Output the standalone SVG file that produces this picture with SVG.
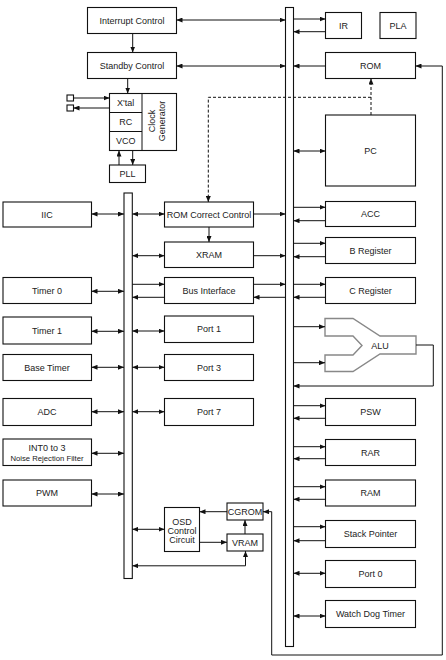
<svg xmlns="http://www.w3.org/2000/svg" width="446" height="660" viewBox="0 0 446 660">
<style>
.b{fill:#fff;stroke:#111;stroke-width:1.1}
.bar{fill:#fff;stroke:#111;stroke-width:1.1}
.t{font-family:"Liberation Sans",Arial,sans-serif;font-size:9px;fill:#222;text-anchor:middle}
.s{font-size:7.7px}
.l{fill:none;stroke:#111;stroke-width:1}
.a{marker-end:url(#ah)}
.d{marker-start:url(#ah);marker-end:url(#ah)}
.dash{stroke-dasharray:3,2}
.alu{fill:#fff;stroke:#888;stroke-width:1.4}
</style>
<defs>
<marker id="ah" viewBox="0 0 6 5" refX="6" refY="2.5" markerWidth="6" markerHeight="5" markerUnits="userSpaceOnUse" orient="auto-start-reverse">
<path d="M0,0 L6,2.5 L0,5 z" fill="#111"/>
</marker>
</defs>

<!-- buses -->
<g id="main-bus"><rect class="bar" x="285.5" y="7.5" width="8" height="639"/></g>
<g id="left-bus"><rect class="bar" x="124" y="193" width="8.3" height="385.5"/></g>

<!-- nodes -->
<g id="interrupt-control"><rect class="b" x="87.5" y="7.5" width="89" height="26"/><text class="t" x="132" y="23.5">Interrupt Control</text></g>
<g id="standby-control"><rect class="b" x="87.5" y="52.5" width="89" height="26"/><text class="t" x="132" y="68.5">Standby Control</text></g>
<g id="clock-generator">
<rect class="b" x="109.5" y="93.5" width="67" height="57"/>
<line class="l" x1="142" y1="93.5" x2="142" y2="150.5"/>
<line class="l" x1="109.5" y1="112.5" x2="142" y2="112.5"/>
<line class="l" x1="109.5" y1="131.5" x2="142" y2="131.5"/>
<text class="t" x="125.7" y="106">X'tal</text>
<text class="t" x="125.7" y="125">RC</text>
<text class="t" x="125.7" y="144">VCO</text>
<text class="t" transform="translate(154.5,121) rotate(-90)">Clock</text>
<text class="t" transform="translate(164.5,121) rotate(-90)">Generator</text>
</g>
<g id="pin1"><rect class="b" x="67" y="95" width="6.5" height="6"/></g>
<g id="pin2"><rect class="b" x="67" y="105" width="6.5" height="6"/></g>
<g id="pll"><rect class="b" x="109.5" y="165" width="36" height="17.5"/><text class="t" x="127.5" y="177">PLL</text></g>

<g id="ir"><rect class="b" x="325.5" y="12.5" width="36" height="26"/><text class="t" x="343.5" y="28.5">IR</text></g>
<g id="pla"><rect class="b" x="380" y="12.5" width="36" height="26"/><text class="t" x="398" y="28.5">PLA</text></g>
<g id="rom"><rect class="b" x="325.5" y="52.5" width="90" height="26"/><text class="t" x="370.5" y="68.5">ROM</text></g>
<g id="pc"><rect class="b" x="325.5" y="115" width="90" height="71"/><text class="t" x="370.5" y="154">PC</text></g>
<g id="acc"><rect class="b" x="325.5" y="201.5" width="90" height="25"/><text class="t" x="370.5" y="217">ACC</text></g>
<g id="b-register"><rect class="b" x="325.5" y="237.5" width="90" height="26"/><text class="t" x="370.5" y="253.5">B Register</text></g>
<g id="c-register"><rect class="b" x="325.5" y="277.5" width="90" height="26"/><text class="t" x="370.5" y="293.5">C Register</text></g>
<g id="alu"><path class="alu" d="M325,318.5 H353 L380,336 H416 V354 H380 L353,371.5 H325 V355 H353 L362,345.5 L353,336 H325 Z"/><text class="t" x="380" y="348.5">ALU</text></g>
<g id="psw"><rect class="b" x="325.5" y="398.5" width="90" height="27"/><text class="t" x="370.5" y="415">PSW</text></g>
<g id="rar"><rect class="b" x="325.5" y="439.5" width="90" height="26"/><text class="t" x="370.5" y="455.5">RAR</text></g>
<g id="ram"><rect class="b" x="325.5" y="480" width="90" height="26"/><text class="t" x="370.5" y="496">RAM</text></g>
<g id="stack-pointer"><rect class="b" x="325.5" y="520.5" width="90" height="27"/><text class="t" x="370.5" y="537">Stack Pointer</text></g>
<g id="port0"><rect class="b" x="325.5" y="560.5" width="90" height="27"/><text class="t" x="370.5" y="577">Port 0</text></g>
<g id="watch-dog-timer"><rect class="b" x="325.5" y="600.5" width="90" height="27"/><text class="t" x="370.5" y="617">Watch Dog Timer</text></g>

<g id="rom-correct-control"><rect class="b" x="164.5" y="202" width="89" height="25"/><text class="t" x="209" y="217.5">ROM Correct Control</text></g>
<g id="xram"><rect class="b" x="164.5" y="242" width="89" height="25.5"/><text class="t" x="209" y="258">XRAM</text></g>
<g id="bus-interface"><rect class="b" x="164.5" y="277.5" width="89" height="26"/><text class="t" x="209" y="293.5">Bus Interface</text></g>
<g id="port1"><rect class="b" x="164.5" y="316" width="89" height="26.5"/><text class="t" x="209" y="332">Port 1</text></g>
<g id="port3"><rect class="b" x="164.5" y="354.5" width="89" height="26"/><text class="t" x="209" y="370.5">Port 3</text></g>
<g id="port7"><rect class="b" x="164.5" y="398.5" width="89" height="27"/><text class="t" x="209" y="415">Port 7</text></g>
<g id="osd"><rect class="b" x="164.5" y="507.5" width="35" height="44"/><text class="t" x="182" y="524.5">OSD</text><text class="t" x="182" y="533.5">Control</text><text class="t" x="182" y="542.5">Circuit</text></g>
<g id="cgrom"><rect class="b" x="227" y="503" width="36" height="17"/><text class="t" x="245" y="514.8">CGROM</text></g>
<g id="vram"><rect class="b" x="227" y="534" width="36" height="17"/><text class="t" x="245" y="545.8">VRAM</text></g>

<g id="iic"><rect class="b" x="3" y="202" width="88.5" height="25"/><text class="t" x="47" y="217.5">IIC</text></g>
<g id="timer0"><rect class="b" x="3" y="277.5" width="88.5" height="26"/><text class="t" x="47" y="293.5">Timer 0</text></g>
<g id="timer1"><rect class="b" x="3" y="317" width="88.5" height="27"/><text class="t" x="47" y="333.5">Timer 1</text></g>
<g id="base-timer"><rect class="b" x="3" y="354.5" width="88.5" height="26"/><text class="t" x="47" y="370.5">Base Timer</text></g>
<g id="adc"><rect class="b" x="3" y="398.5" width="88.5" height="27"/><text class="t" x="47" y="415">ADC</text></g>
<g id="int0"><rect class="b" x="3" y="439" width="88.5" height="26.5"/><text class="t" x="47" y="451">INT0 to 3</text><text class="t s" x="47" y="460.5">Noise Rejection Filter</text></g>
<g id="pwm"><rect class="b" x="3" y="480" width="88.5" height="26"/><text class="t" x="47" y="496">PWM</text></g>

<!-- connectors -->
<g id="connectors">
<path class="l a" d="M132.7,33.5 V52.5"/>
<path class="l a" d="M127.7,78.5 V93.5"/>
<path class="l d" d="M176.5,20 H285.5"/>
<path class="l d" d="M176.5,66 H285.5"/>
<path class="l a" d="M73.5,98 H109.5"/>
<path class="l a" d="M109.5,108 H73.5"/>
<path class="l a" d="M119,165 V150.5"/>
<path class="l a" d="M132.7,150.5 V165"/>

<path class="l a" d="M293.5,19 H325.5"/>
<path class="l a" d="M325.5,31.7 H293.5"/>
<path class="l a" d="M325.5,66 H293.5"/>
<path class="l d" d="M293.5,151 H325.5"/>
<path class="l dash a" d="M371,115 V78.5"/>
<path class="l dash a" d="M371,97.3 H208.3 V202"/>
<path class="l a" d="M442.3,655 V66 H415.5"/>
<path class="l a" d="M442.3,655 H271.7 V511.7 H263"/>

<path class="l a" d="M293.5,207.3 H325.5"/>
<path class="l a" d="M325.5,220.7 H293.5"/>
<path class="l a" d="M293.5,243.3 H325.5"/>
<path class="l a" d="M325.5,256.7 H293.5"/>
<path class="l a" d="M293.5,284.3 H325.5"/>
<path class="l a" d="M325.5,297.3 H293.5"/>
<path class="l a" d="M293.5,326.7 H325"/>
<path class="l a" d="M293.5,362.7 H325"/>
<path class="l a" d="M416,345 H433.3 V386 H293.5"/>
<path class="l a" d="M293.5,405.7 H325.5"/>
<path class="l a" d="M325.5,418.3 H293.5"/>
<path class="l a" d="M293.5,446.7 H325.5"/>
<path class="l a" d="M325.5,458.7 H293.5"/>
<path class="l a" d="M293.5,486.7 H325.5"/>
<path class="l a" d="M325.5,499.3 H293.5"/>
<path class="l a" d="M293.5,526.7 H325.5"/>
<path class="l a" d="M325.5,540.7 H293.5"/>
<path class="l d" d="M293.5,573.3 H325.5"/>
<path class="l d" d="M293.5,616 H325.5"/>

<path class="l a" d="M253.5,214 H285.5"/>
<path class="l a" d="M253.5,255.7 H285.5"/>
<path class="l a" d="M253.5,284.3 H285.5"/>
<path class="l a" d="M285.5,297.3 H253.5"/>
<path class="l a" d="M209,227 V242"/>

<path class="l d" d="M132.3,214 H164.5"/>
<path class="l d" d="M132.3,255.7 H164.5"/>
<path class="l a" d="M132.3,284.3 H164.5"/>
<path class="l a" d="M164.5,297.3 H132.3"/>
<path class="l d" d="M132.3,331 H164.5"/>
<path class="l d" d="M132.3,367.3 H164.5"/>
<path class="l d" d="M132.3,411.7 H164.5"/>
<path class="l d" d="M132.3,529.3 H164.5"/>
<path class="l d" d="M132.3,565.8 H245.5 V551"/>
<path class="l a" d="M227,511.7 H199.5"/>
<path class="l a" d="M199.5,542.3 H227"/>
<path class="l a" d="M245,534 V520"/>

<path class="l d" d="M91.5,214 H124"/>
<path class="l d" d="M91.5,291.3 H124"/>
<path class="l d" d="M91.5,331.3 H124"/>
<path class="l d" d="M91.5,367.3 H124"/>
<path class="l d" d="M91.5,411.7 H124"/>
<path class="l d" d="M91.5,453.3 H124"/>
<path class="l d" d="M91.5,494 H124"/>
</g>
</svg>
